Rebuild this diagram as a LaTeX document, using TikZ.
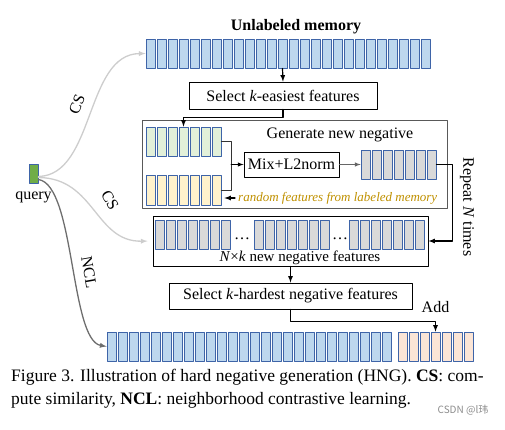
\documentclass[tikz,border=0pt]{standalone}
\usepackage{fontspec}
\setmainfont{Liberation Serif}
\newfontfamily\wmfont{Noto Sans CJK SC}
\usetikzlibrary{arrows}
\usetikzlibrary{positioning}

\definecolor{memblue}{RGB}{189,215,238}
\definecolor{cellline}{RGB}{62,100,168}
\definecolor{mixgreen}{RGB}{226,240,217}
\definecolor{randyellow}{RGB}{255,242,204}
\definecolor{neggray}{RGB}{217,217,217}
\definecolor{addpink}{RGB}{251,229,214}
\definecolor{querygreen}{RGB}{112,173,71}
\definecolor{csgray}{RGB}{205,205,205}
\definecolor{nclgray}{RGB}{110,110,110}
\definecolor{gold}{RGB}{191,144,0}

\begin{document}
\begin{tikzpicture}[line cap=round,line join=round,>=latex,x=1pt,y=-1pt,
  cell/.style={draw=cellline,line width=0.75pt,minimum width=9pt,minimum height=29pt,inner sep=0pt},
  box/.style={draw,line width=0.9pt,inner sep=0pt,font=\fontsize{16}{19}\selectfont},
  txt/.style={font=\fontsize{16}{19}\selectfont,inner sep=0pt},
  link/.style={line width=1.2pt,->},
  curve/.style={line width=1.3pt,->}]
\useasboundingbox (0,0) rectangle (505,430);

% memories
\node[txt,font=\fontsize{16}{19}\selectfont\bfseries] (memtitle) at (296,27) {Unlabeled memory};
\foreach \i in {1,...,26}
  \node[cell,fill=memblue] (mem\i) at ({150.5+11*(\i-1)},53.5) {};
\foreach \i in {1,...,26}
  \node[cell,fill=memblue] (bot\i) at ({111.5+11*(\i-1)},346.5) {};
\foreach \i in {1,...,7}
  \node[cell,fill=addpink] (pnk\i) at ({402.5+11*(\i-1)},346.5) {};

% query
\node[draw=cellline,fill=querygreen,line width=0.9pt,minimum width=9pt,minimum height=19pt,inner sep=0pt] (query) at (33.5,173.5) {};
\node[txt,below=8pt of query] (qlabel) {query};

% select easiest
\node[box,minimum width=188pt,minimum height=27pt] (sel1) at (283,95.5) {Select \textit{k}-easiest features};
\draw[link] (mem13.south) -- (sel1.north);

% generate new negative
\node[draw=black!65,line width=0.9pt,minimum width=305pt,minimum height=88pt] (genbox) at (294.5,164) {};
\node[txt] at (340,135) {Generate new negative};
\foreach \i in {1,...,7}
  \node[cell,fill=mixgreen] (grn\i) at ({150.5+11*(\i-1)},141.5) {};
\foreach \i in {1,...,7}
  \node[cell,fill=randyellow,minimum height=30pt] (yel\i) at ({150.5+11*(\i-1)},190) {};
\foreach \i in {1,...,7}
  \node[cell,fill=neggray] (gen\i) at ({365.5+11*(\i-1)},164.5) {};
\node[box,minimum width=95pt,minimum height=25pt] (mix) at (291.5,164.5) {Mix+L2norm};
\coordinate (join) at (231,164.5);
\draw[line width=0.8pt,black!80] (grn7.east) -| (join);
\draw[line width=0.8pt,black!80] (yel7.east) -| (join);
\draw[link,line width=1pt] (join) -- (mix.west);
\draw[link,line width=1pt,black!60] (mix.east) -- (gen1.west);
\node[txt,anchor=west,text=gold,font=\fontsize{13}{16}\selectfont\itshape] (rnd) at (238,198) {random features from labeled memory};
\draw[link] (rnd.west) ++(-3,0) -- (yel7.east |- rnd.west) [shorten >=3pt];
\draw[link] (sel1.south) -- ++(0,8) -| (grn4.north);

% N x k new negatives
\node[draw,line width=0.9pt,minimum width=275pt,minimum height=50pt] (nkbox) at (290.5,241) {};
\foreach \g/\s in {1/155,2/254,3/349}
  \foreach \i in {1,...,7}
    \node[cell,fill=neggray] (nk\g-\i) at ({\s+4.5+11*(\i-1)},234.5) {};
\node[txt,anchor=base] at (242,239) {…};
\node[txt,anchor=base] at (340,239) {…};
\node[txt,font=\fontsize{15}{18}\selectfont] at (300,258) {\textit{N}×\textit{k} new negative features};
\draw[link] (gen7.east) -- ++(16,0) |- (nkbox.east);
\node[txt,rotate=-90] (repeat) at (467,207) {Repeat \textit{N} times};

% select hardest
\node[box,minimum width=243pt,minimum height=26pt] (sel2) at (290.5,296) {Select \textit{k}-hardest negative features};
\draw[link] (nkbox.south) -- (sel2.north);
\draw[link] (sel2.south) -- ++(0,12) -| (pnk4.north);
\node[txt] at (435.5,307) {Add};

% similarity curves
\draw[curve,csgray] (query.east) ++(0,3) .. controls (95,175) and (85,54) .. (mem1.west);
\draw[curve,csgray,shorten >=5pt] (query.east) ++(0,4) .. controls (95,178) and (95,242) .. (nkbox.west);
\draw[curve,nclgray] (query.east) ++(0,6) .. controls (75,185) and (70,340) .. (bot1.west);
\node[txt,rotate=68] at (77,104) {CS};
\node[txt,rotate=-60] at (110,200) {CS};
\node[txt,rotate=-80] at (89,272) {NCL};

% caption
\node[anchor=base west,inner sep=0pt,font=\fontsize{17.5}{23}\selectfont] at (11,381) {Figure 3. Illustration of hard negative generation (HNG). \textbf{CS}: com-};
\node[anchor=base west,inner sep=0pt,font=\fontsize{17.5}{23}\selectfont] at (11,404) {pute similarity, \textbf{NCL}: neighborhood contrastive learning.};
\node[text=black!45,inner sep=0pt,font=\wmfont\fontsize{10}{12}\selectfont] at (463,410) {CSDN @l玮};
\end{tikzpicture}
\end{document}
